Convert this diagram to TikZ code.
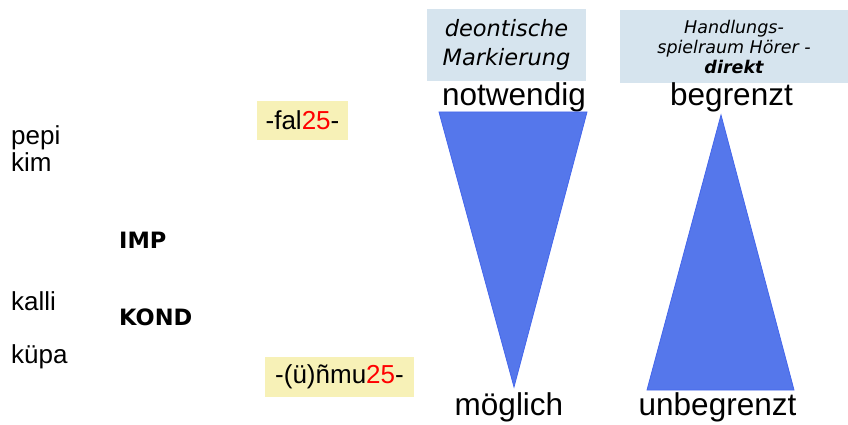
\documentclass[tikz,border=0pt]{standalone}
\usepackage{fontspec}
\setmainfont{Liberation Sans}
\newfontfamily\djv{DejaVu Sans}
\definecolor{hdrblue}{RGB}{214,228,238}
\definecolor{lblyellow}{RGB}{247,241,183}
\definecolor{trifill}{RGB}{85,119,235}
\definecolor{triline}{RGB}{68,102,236}
\definecolor{numred}{RGB}{255,0,0}
\tikzset{
  leftlbl/.style={inner sep=0pt, anchor=base west, font=\fontsize{26}{30}\selectfont},
  gramlbl/.style={inner sep=0pt, anchor=base west, font=\djv\bfseries\fontsize{22.5}{26}\selectfont},
  biglbl/.style={inner sep=0pt, anchor=base, font=\fontsize{31.5}{36}\selectfont},
  hdrbox/.style={fill=hdrblue, inner sep=0pt, align=center},
  morphbox/.style={fill=lblyellow, inner sep=0pt, font=\fontsize{26}{30}\selectfont},
  tri/.style={fill=trifill, draw=triline, line width=0.8pt, line join=miter}
}
\begin{document}
\begin{tikzpicture}[x=1pt,y=-1pt]
\useasboundingbox (0,0) rectangle (848,425);
% headers
\node[hdrbox, minimum width=159pt, minimum height=72pt,
      font=\djv\itshape\fontsize{22.5}{29}\selectfont] (hdr1) at (506.5,45)
      {deontische\\Markierung};
\node[hdrbox, minimum width=228pt, minimum height=73pt,
      font=\djv\itshape\fontsize{17.5}{20}\selectfont] (hdr2) at (734,46.5)
      {Handlungs-\\spielraum Hörer -\\\textbf{direkt}};
% scale labels
\node[biglbl] (notw) at (514,106) {notwendig};
\node[biglbl] (begr) at (731.5,106) {begrenzt};
\node[biglbl] (mogl) at (509,415) {möglich};
\node[biglbl] (unbe) at (717.5,415) {unbegrenzt};
% triangles
\coordinate (t1a) at (439,112);
\coordinate (t1b) at (587,112);
\coordinate (t1c) at (514,387);
\coordinate (t2a) at (721,115);
\coordinate (t2b) at (647,390);
\coordinate (t2c) at (794,390);
\filldraw[tri] (t1a) -- (t1b) -- (t1c) -- cycle;
\filldraw[tri] (t2a) -- (t2b) -- (t2c) -- cycle;
% morphemes
\node[morphbox, minimum width=91pt, minimum height=39pt] (fal) at (302.5,120.5)
      {-fal\textcolor{numred}{25}-};
\node[morphbox, minimum width=149pt, minimum height=40pt] (nmu) at (339.5,377)
      {-(ü)ñmu\textcolor{numred}{25}-};
% left words
\node[leftlbl] (pepi) at (11,144) {pepi};
\node[leftlbl] (kim) at (11,171) {kim};
\node[leftlbl] (kalli) at (11,310) {kalli};
\node[leftlbl] (kupa) at (11,363) {küpa};
\node[gramlbl] (imp) at (119,248) {IMP};
\node[gramlbl] (kond) at (119,325) {KOND};
\end{tikzpicture}
\end{document}
